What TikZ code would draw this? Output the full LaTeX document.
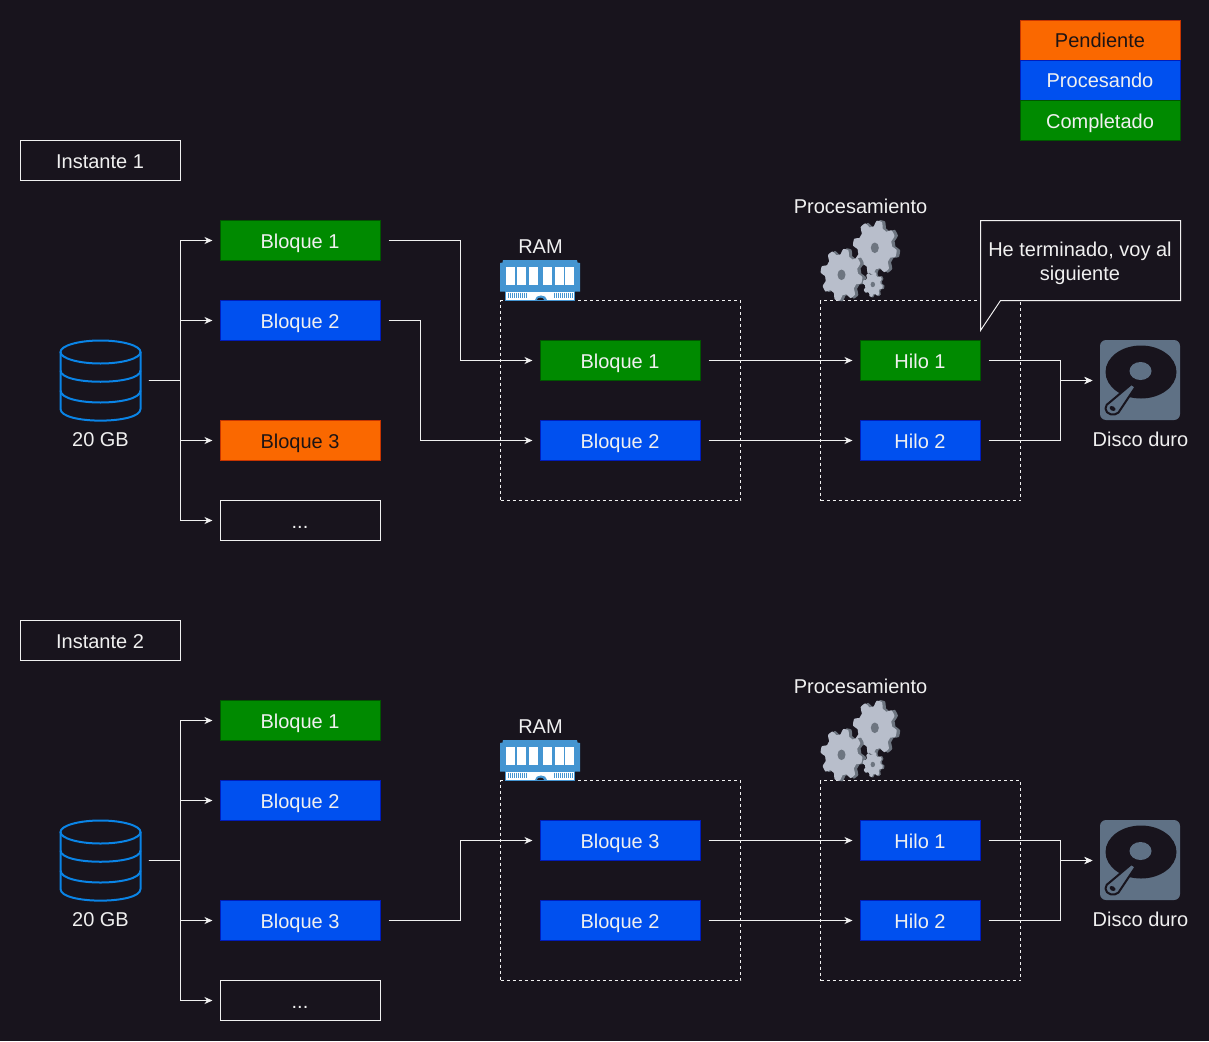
\documentclass[tikz,border=0pt]{standalone}
\usepackage{fontspec}
\setmainfont{Liberation Sans}
\usetikzlibrary{positioning,arrows.meta}
\definecolor{fondo}{HTML}{18141D}
\definecolor{texto}{HTML}{F0F0F0}
\definecolor{disco}{HTML}{5F7185}
\definecolor{cilindro}{HTML}{0A84E6}
\definecolor{modulo}{HTML}{4495D1}
\definecolor{piezaclara}{HTML}{B8BECB}
\definecolor{piezaoscura}{HTML}{6D7580}
\newcommand{\rueda}[3]{
    \fill [#3, shift={(#1)}, yscale=1.24] plot [domain=0:360, samples=145]
        (\x+12:{#2*(.89+.11*max(-1,min(1,1.8*cos(8*\x))))}) -- cycle;
}
\tikzset{%
    letrero/.style={
        text=texto,
        inner sep=0pt,
        outer sep=0pt,
        font=\fontsize{20}{24}\selectfont
    },
    rotulo/.style={
        letrero,
        text height=18pt,
        text depth=3pt
    },
    caja/.style={
        rotulo,
        draw=texto,
        line width=1pt,
        minimum width=160pt,
        minimum height=40pt,
        execute at end node=\kern1pt
    },
    naranja/.style={
        caja,
        fill={rgb,255:red,250;green,104;blue,0},
        draw={rgb,255:red,199;green,53;blue,0},
        text={rgb,255:red,30;green,20;blue,20}
    },
    azul/.style={
        caja,
        fill={rgb,255:red,0;green,80;blue,239},
        draw={rgb,255:red,0;green,29;blue,188}
    },
    verde/.style={
        caja,
        fill={rgb,255:red,0;green,138;blue,0},
        draw={rgb,255:red,0;green,87;blue,0}
    },
    icono/.style={
        inner sep=0pt,
        outer sep=0pt,
        minimum size=80pt
    },
    zona/.style={
        draw=texto,
        line width=1pt,
        dash pattern=on 3pt off 3pt,
        inner sep=0pt,
        outer sep=0pt
    },
    flecha/.style={
        draw=texto,
        line width=1pt,
        -{Stealth[length=8pt,width=7pt,inset=2.5pt]},
        shorten <=8pt,
        shorten >=8pt
    },
    pics/memoria/.style={code={
        \fill [white, draw=modulo, line width=1pt] (-35,11) rectangle (34,19.5);
        \foreach \a in {-32,-30,...,-14,14,16,...,32}
            \draw [modulo, line width=1pt] (\a,12) -- (\a,17);
        \fill [modulo] (-6,19.5) .. controls (-6,13.5) and (6,13.5) .. (6,19.5) -- cycle;
        \fill [fondo] (-3.5,19.5) .. controls (-3.5,16) and (3.5,16) .. (3.5,19.5) -- cycle;
        \fill [modulo] (-40.5,-17.5) -- (-38,-18) -- (-37.5,-20.5) -- (36.5,-20.5) -- (37,-18)
            -- (39.5,-17.5) -- (39.5,11.2) -- (-40.5,11.2) -- cycle;
        \foreach \a in {-34.5,-23.2,-11.8,2.8,14.2,24.8}
            \fill [white] (\a,-13.8) rectangle ++(8.8,18);
    }},
    pics/engranes/.style={code={
        \rueda{17.3,-12.7}{22.5}{piezaoscura}
        \rueda{14.3,-12.7}{22}{piezaclara}
        \fill [piezaoscura] (14.3,-12.7) ellipse (4 and 5.3);
        \rueda{-16,14.3}{21.5}{piezaoscura}
        \rueda{-19,14.3}{21}{piezaclara}
        \fill [piezaoscura] (-19,14.3) ellipse (4 and 5.3);
        \rueda{13.5,24}{10.5}{piezaoscura}
        \rueda{12.3,24}{10}{piezaclara}
        \fill [piezaoscura] (12.3,24) ellipse (2.2 and 2.7);
    }},
    pics/duro/.style={code={
        \fill [disco, rounded corners=6pt] (-40.5,-40.5) rectangle (39.5,39.5);
        \fill [fondo] (.5,-8.5) ellipse (35.5 and 26.5);
        \fill [disco] (0,-9.5) ellipse (11 and 9);
        \draw [fondo, line width=2pt, line join=round, fill=disco]
            (-9,3.5) -- (-5,6.5) -- (-22,32) .. controls (-26,36) and (-35,34) .. (-35,28)
            .. controls (-35,25) and (-33,23) .. (-31,22) -- cycle;
        \fill [fondo, rotate around={-30:(-28,28)}] (-28,28) ellipse (3.2 and 2.2);
    }},
    pics/cilindro/.style={code={
        \draw [cilindro, line width=2pt] (0,-28.5) ellipse (40 and 11.5);
        \draw [cilindro, line width=2pt] (-40,-28.5) -- (-40,28.5)
            .. controls (-40,44) and (40,44) .. (40,28.5) -- (40,-28.5);
        \draw [cilindro, line width=2pt] (-40,-10) .. controls (-40,5) and (40,5) .. (40,-10);
        \draw [cilindro, line width=2pt] (-40,10) .. controls (-40,26) and (40,26) .. (40,10);
    }},
}
\begin{document}
\begin{tikzpicture}[x=1pt, y=-1pt, shift={(.5,.5)}]

    \fill [fondo, use as bounding box] (-.5,-.5) rectangle (1208.5,1040.5);

    \node [naranja] (pendiente) at (1100,40) {Pendiente};
    \node [azul] (procesando) at (1100,80) {Procesando};
    \node [verde] (completado) at (1100,120) {Completado};

    \foreach \i/\dy/\colIII/\nI/\colI in {1/0/naranja/1/verde,2/480/azul/3/azul} {
    \begin{scope}[shift={(0,\dy)}]

        \node [caja] (instante-\i) at (100,160) {Instante \i};

        \node [icono] (datos-\i) at (100,380) {};
        \pic at (datos-\i) {cilindro};
        \node [rotulo] (gb-\i) at (100,438) {20 GB};

        \foreach \m/\y/\col in {1/240/verde,2/320/azul}
            \node [\col] (bloque\m-\i) at (300,\y) {Bloque \m};
        \node [\colIII] (bloque3-\i) at (300,440) {Bloque 3};
        \node [caja] (bloque4-\i) at (300,520) {...};

        \foreach \m in {1,...,4}
            \draw [flecha] (datos-\i.east) -- ++(40,0) |- (bloque\m-\i.west);

        \node [zona, minimum width=240pt, minimum height=200pt] (zonaram-\i) at (620,400) {};
        \node [rotulo] (ramtxt-\i) at (540,245) {RAM};
        \node [icono, minimum height=40pt] (ram-\i) at (540,280) {};
        \pic at (ram-\i) {memoria};

        \node [\colI] (ram1-\i) at (620,360) {Bloque \nI};
        \node [azul] (ram2-\i) at (620,440) {Bloque 2};

        \node [zona, minimum width=200pt, minimum height=200pt] (zonahilos-\i) at (920,400) {};
        \node [rotulo] (proc-\i) at (860,205) {Procesamiento};
        \node [icono] (gears-\i) at (860,260) {};
        \pic at (gears-\i) {engranes};

        \node [\colI, minimum width=120pt] (hilo1-\i) at (920,360) {Hilo 1};
        \node [azul, minimum width=120pt] (hilo2-\i) at (920,440) {Hilo 2};

        \node [icono] (disco-\i) at (1140,380) {};
        \pic at (disco-\i) {duro};
        \node [rotulo] (discotxt-\i) at (1140,438) {Disco duro};

        \foreach \m in {1,2} {
            \draw [flecha] (ram\m-\i.east) -- (hilo\m-\i.west);
            \draw [flecha] (hilo\m-\i.east) -- ++(80,0) |- (disco-\i.west);
        }
    \end{scope}
    }

    \draw [flecha] (bloque1-1.east) -- ++(80,0) |- (ram1-1.west);
    \draw [flecha] (bloque2-1.east) -- ++(40,0) |- (ram2-1.west);
    \draw [flecha] (bloque3-2.east) -- ++(80,0) |- (ram1-2.west);

    \node [letrero, minimum width=200pt, minimum height=80pt] (globo) at (1080,260) {};
    \coordinate (punta) at (980,330);
    \draw [texto, line width=1pt, fill=fondo] (globo.north west) -- (globo.north east)
        -- (globo.south east) -- (1000,300) -- (punta) -- cycle;
    \node [letrero, align=center] (globotxt) at (1079.5,262.5) {He terminado, voy al\\siguiente};

\end{tikzpicture}
\end{document}
